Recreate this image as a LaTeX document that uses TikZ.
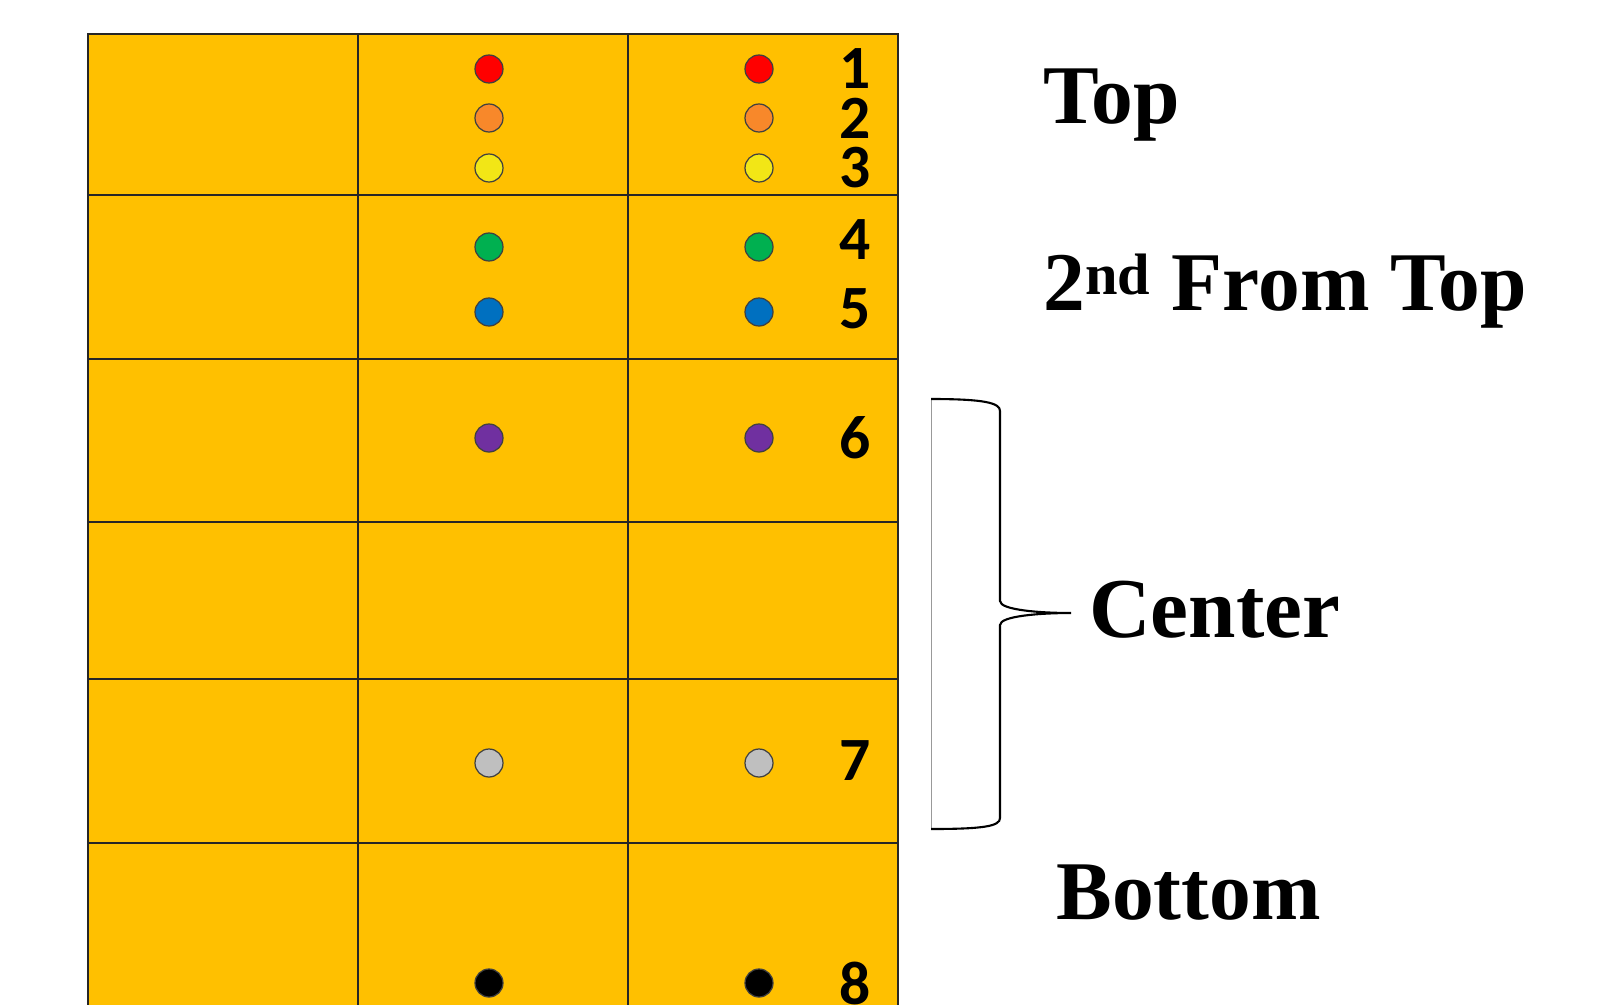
\documentclass[tikz,border=0pt]{standalone}
\usepackage{fontspec}
\usepackage{tikz}
\usepackage{xcolor}
\setmainfont{Liberation Serif}
\newfontfamily\numfont{Carlito}
\usetikzlibrary{positioning,calc}
\definecolor{trayamber}{HTML}{FFC000}
\definecolor{dotred}{HTML}{FF0000}
\definecolor{dotorange}{HTML}{F8882A}
\definecolor{dotyellow}{HTML}{F2E616}
\definecolor{dotgreen}{HTML}{00B050}
\definecolor{dotblue}{HTML}{0070C0}
\definecolor{dotpurple}{HTML}{7030A0}
\definecolor{dotgray}{HTML}{BFBFBF}
\tikzset{
  cellBox/.style={draw=black!85, fill=trayamber, line width=0.9pt},
  dotMark/.style={circle, draw=black!75, line width=0.7pt, minimum size=5.6mm, inner sep=0pt},
  rowNum/.style={font=\numfont\bfseries\fontsize{35}{36}\selectfont, inner sep=0pt},
  zoneLabel/.style={font=\bfseries\fontsize{47.5}{49}\selectfont, inner sep=0pt, anchor=base west}
}

\begin{document}
\begin{tikzpicture}[x=0.2mm,y=-0.2mm]
  \useasboundingbox (0,0) rectangle (1624,1004);
  % tray cells
  \foreach \xa/\xb in {88/358,358/628,628/898} {
    \foreach \ya/\yb in {34/195,195/359,359/522,522/679,679/843,843/1030} {
      \draw[cellBox] (\xa,\ya) rectangle (\xb,\yb);
    }
  }
  % markers and their numbers
  \foreach \y/\ny/\col/\n in {69/69/dotred/1,118/118/dotorange/2,168/168/dotyellow/3,247/240/dotgreen/4,312/309/dotblue/5,438/438/dotpurple/6,763/761/dotgray/7,983/983/black/8} {
    \node[dotMark, fill=\col] (l\n) at (489,\y) {};
    \node[dotMark, fill=\col] (r\n) at (759,\y) {};
    \node[rowNum] (n\n) at (855,\ny) {\n};
  }
  % zone labels
  \node[zoneLabel] (top) at (1043,123) {Top};
  \node[zoneLabel] (second) at (1043,310) {2\textsuperscript{nd} From Top};
  \node[zoneLabel, font=\bfseries\fontsize{48.5}{50}\selectfont] (center) at (1089,637) {Center};
  \node[zoneLabel] (bottom) at (1056,919) {Bottom};
  % brace round the center rows
  \coordinate (cusp) at (1071,613);
  \draw[black!40, line width=0.5pt] (931,399) -- (931,829);
  \draw[line width=1.2pt] (931,399) .. controls (985,399) and (1000,403) .. (1000,411)
    -- (1000,601) .. controls (1000,610) and (1040,613) .. (cusp)
    .. controls (1040,613) and (1000,616) .. (1000,625)
    -- (1000,818) .. controls (1000,826) and (985,829) .. (931,829);
\end{tikzpicture}
\end{document}
